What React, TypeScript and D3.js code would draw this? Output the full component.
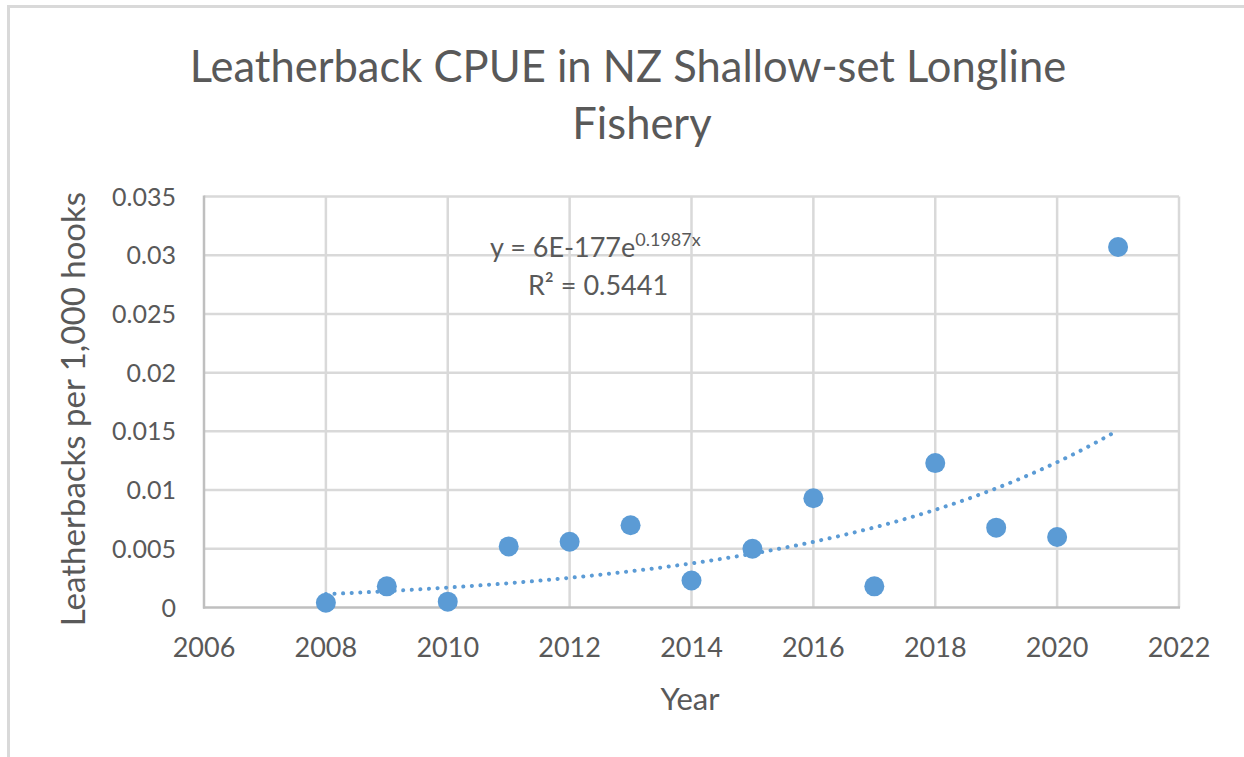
import React from 'react';
import { scaleLinear, line, range } from 'd3';

// years and CPUE values
const years = [2008, 2009, 2010, 2011, 2012, 2013, 2014, 2015, 2016, 2017, 2018, 2019, 2020, 2021];
const cpue = [0.0004, 0.0018, 0.0005, 0.0052, 0.0056, 0.007, 0.0023, 0.005, 0.0093, 0.0018, 0.0123, 0.0068, 0.006, 0.0307];

const xTicks = [2006, 2008, 2010, 2012, 2014, 2016, 2018, 2020, 2022];
const yTicks = [0, 0.005, 0.01, 0.015, 0.02, 0.025, 0.03, 0.035];
const yTickLabels = ['0', '0.005', '0.01', '0.015', '0.02', '0.025', '0.03', '0.035'];

// exponential trendline as printed on the chart: y = a * e^(b x)
const trendA = 6e-177;
const trendB = 0.1987;
const rSquared = '0.5441';

const W = 1244;
const H = 757;
const font = 'Lato, "Open Sans", sans-serif';
const textColor = '#595959';
const gridColor = '#d9d9d9';
const blue = '#5b9bd5';

function App() {
  const x = scaleLinear().domain([2006, 2022]).range([204, 1179]);
  const y = scaleLinear().domain([0, 0.035]).range([607.5, 196.5]);

  // trendline sampled across the data range
  const trendYears = range(years[0], years[years.length - 1] + 0.001, 0.1);
  const trendLine = line<number>()
    .x((d) => x(d))
    .y((d) => y(trendA * Math.exp(trendB * d)));

  return (
    <svg
      width={W}
      height={H}
      style={{ position: 'absolute', left: 0, top: 0, background: '#fff' }}
    >
      {/* chart frame */}
      <line x1={8.5} x2={8.5} y1={5} y2={H} stroke={gridColor} strokeWidth={3} />
      <line x1={7} x2={W} y1={6.5} y2={6.5} stroke={gridColor} strokeWidth={3} />

      {/* title */}
      <text x={628} y={82} textAnchor="middle" fontFamily={font} fontSize={43.5} fill={textColor}>
        Leatherback CPUE in NZ Shallow-set Longline
      </text>
      <text x={642} y={139} textAnchor="middle" fontFamily={font} fontSize={43.5} fill={textColor}>
        Fishery
      </text>

      {/* gridlines */}
      {yTicks.slice(1).map((t) => (
        <line key={'gy' + t} x1={x(2006)} x2={x(2022)} y1={y(t)} y2={y(t)} stroke={gridColor} strokeWidth={2.5} />
      ))}
      {xTicks.slice(1).map((t) => (
        <line key={'gx' + t} x1={x(t)} x2={x(t)} y1={y(0)} y2={y(0.035)} stroke={gridColor} strokeWidth={2.5} />
      ))}
      {/* axes */}
      <line x1={x(2006)} x2={x(2006)} y1={y(0) + 1} y2={y(0.035) - 1} stroke="#bfbfbf" strokeWidth={2.5} />
      <line x1={x(2006) - 1} x2={x(2022) + 1} y1={y(0)} y2={y(0)} stroke="#bfbfbf" strokeWidth={2.5} />

      {/* tick labels */}
      {yTicks.map((t, i) => (
        <text key={'ty' + t} x={176} y={y(t) + 9} textAnchor="end" fontFamily={font} fontSize={25} fill={textColor}>
          {yTickLabels[i]}
        </text>
      ))}
      {xTicks.map((t) => (
        <text key={'tx' + t} x={x(t)} y={657} textAnchor="middle" fontFamily={font} fontSize={27} fill={textColor}>
          {t}
        </text>
      ))}

      {/* axis titles */}
      <text
        transform={`translate(85, 409) rotate(-90)`}
        textAnchor="middle"
        fontFamily={font}
        fontSize={33}
        fill={textColor}
      >
        Leatherbacks per 1,000 hooks
      </text>
      <text x={690} y={710} textAnchor="middle" fontFamily={font} fontSize={31} fill={textColor}>
        Year
      </text>

      {/* trendline */}
      <path
        d={trendLine(trendYears) || ''}
        fill="none"
        stroke={blue}
        strokeWidth={4}
        strokeDasharray="0.1 8.5"
        strokeLinecap="round"
      />

      {/* points */}
      {years.map((yr, i) => (
        <circle key={yr} cx={x(yr)} cy={y(cpue[i])} r={10} fill={blue} />
      ))}

      {/* trendline label */}
      <text x={490} y={257} fontFamily={font} fontSize={27} fill={textColor}>
        y = 6E-177e
        <tspan dy={-11} fontSize={18}>{trendB}x</tspan>
      </text>
      <text x={598} y={295} textAnchor="middle" fontFamily={font} fontSize={27} fill={textColor}>
        R² = {rSquared}
      </text>
    </svg>
  );
}

export default App;
